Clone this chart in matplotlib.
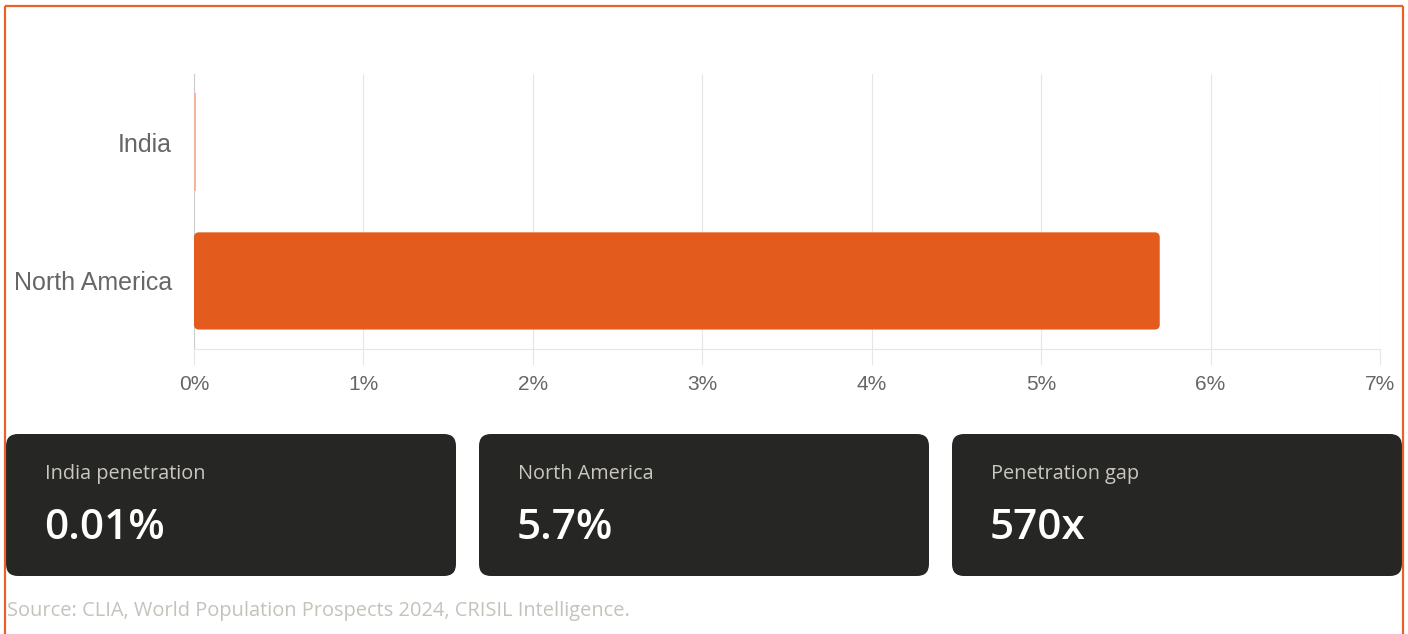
import matplotlib
matplotlib.use("Agg")
import matplotlib.pyplot as plt
from matplotlib.patches import FancyBboxPatch
from matplotlib.ticker import FuncFormatter

# ---- data ----
categories = ["India", "North America"]
penetration = [0.01, 5.7]          # percent
x_ticks = [0, 1, 2, 3, 4, 5, 6, 7]
card_labels = ["India penetration", "North America", "Penetration gap"]
card_values = ["0.01%", "5.7%", "570x"]
source_text = "Source: CLIA, World Population Prospects 2024, CRISIL Intelligence."

W, H = 1408, 634
fig = plt.figure(figsize=(W / 100, H / 100), dpi=100)
fig.patch.set_facecolor("white")

BAR = "#E45B1E"
GRID = "#e6e6e6"

# ---- main chart ----
ax = fig.add_axes([194 / W, 1 - 349 / H, (1380 - 194) / W, (349 - 74) / H])
bars = ax.barh(range(len(categories)), penetration, height=0.7, color=BAR, zorder=3)
ax.set_xlim(0, 7)
ax.set_ylim(1.49, -0.49)

# replace with rounded bars
xr = 5 / ((1380 - 194) / 7)
yr = 5 / 139
for b in bars:
    x0, y0 = b.get_x(), b.get_y()
    w, h = b.get_width(), b.get_height()
    b.set_visible(False)
    if w > 0.1:
        p = FancyBboxPatch((x0, y0), w, h, boxstyle=f"round,pad=0,rounding_size={xr}",
                           mutation_aspect=yr / xr, facecolor=BAR, edgecolor="none", zorder=3)
    else:
        p = FancyBboxPatch((x0, y0), w, h, boxstyle="square,pad=0",
                           facecolor="#F2B79B", edgecolor="none", zorder=3)
    ax.add_patch(p)

ax.set_yticks(range(len(categories)))
ax.set_yticklabels(categories, fontsize=18, color="#666666", family="Liberation Sans")
ax.tick_params(axis="y", length=0, pad=16)
ax.set_xticks(x_ticks)
ax.xaxis.set_major_formatter(FuncFormatter(lambda v, p: f"{int(v)}%"))
ax.tick_params(axis="x", length=11.5, width=0.8, color=GRID, pad=7, labelsize=15, labelcolor="#666666")
for lbl in ax.get_xticklabels():
    lbl.set_family("Liberation Sans")
ax.grid(axis="x", color=GRID, linewidth=0.8, zorder=0)
ax.set_axisbelow(True)
for s in ["top", "right"]:
    ax.spines[s].set_visible(False)
ax.spines["bottom"].set_color(GRID)
ax.spines["bottom"].set_linewidth(0.8)
ax.spines["left"].set_color("#cccccc")
ax.spines["left"].set_linewidth(0.8)
ax.spines["left"].set_bounds(-0.49, 1.49)

# ---- overlay in pixel coordinates ----
ov = fig.add_axes([0, 0, 1, 1], zorder=-1)
ov.set_xlim(0, W)
ov.set_ylim(H, 0)
ov.axis("off")

card_x = [6, 479, 952]
card_w = [450, 450, 450]
card_top, card_h = 434, 142
for cx, cw, lab, val in zip(card_x, card_w, card_labels, card_values):
    ov.add_patch(FancyBboxPatch((cx, card_top), cw, card_h,
                                boxstyle="round,pad=0,rounding_size=12",
                                facecolor="#262624", edgecolor="none"))
    ov.text(cx + 39, 474, lab, color="#c9c7bf", fontsize=14.3, family="Open Sans",
            va="center", ha="left")
    ov.text(cx + 38, 528, val, color="white", fontsize=30.5, family="Open Sans",
            fontweight="semibold", va="center", ha="left")

ov.text(7, 611, source_text, color="#c4c2ba", fontsize=14.4, family="Open Sans",
        va="center", ha="left")

# border
BORDER = "#E8602A"
ov.plot([5, 5], [6, H], color=BORDER, lw=1.6, solid_capstyle="butt")
ov.plot([1403, 1403], [6, H], color=BORDER, lw=1.6, solid_capstyle="butt")
ov.plot([5, 1403], [6, 6], color=BORDER, lw=1.6, solid_capstyle="butt")

fig.savefig("out.png", dpi=100, facecolor="white")
